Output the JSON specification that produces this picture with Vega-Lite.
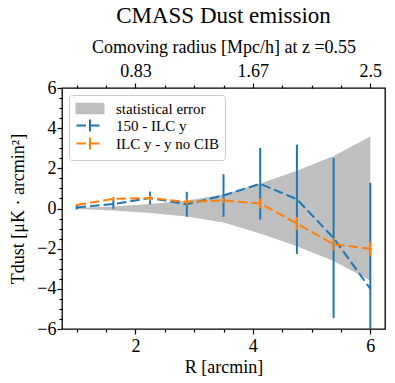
{
  "$schema": "https://vega.github.io/schema/vega-lite/v6.json",
  "width": 323,
  "height": 241,
  "autosize": {"type": "none"},
  "padding": {"left": 62, "top": 88, "right": 10, "bottom": 54},
  "background": "white",
  "title": {"text": "CMASS Dust emission", "font": "Liberation Serif", "fontSize": 23, "fontWeight": "normal", "color": "black", "offset": 10, "anchor": "middle"},
  "config": {
    "view": {"stroke": "black", "strokeWidth": 1.3},
    "axis": {"labelFont": "Liberation Serif", "labelFontSize": 18, "labelColor": "black", "titleFont": "Liberation Serif", "titleFontSize": 18, "titleFontWeight": "normal", "titleColor": "black", "tickColor": "black", "tickWidth": 1.2, "domain": false, "grid": false},
    "legend": {"labelFont": "Liberation Serif", "labelFontSize": 15, "labelColor": "black"}
  },
  "datasets": {
    "band": [
      {"R": 1.0, "lo": -0.03, "hi": 0.03, "series": "statistical error"},
      {"R": 1.625, "lo": -0.1, "hi": 0.1, "series": "statistical error"},
      {"R": 2.25, "lo": -0.22, "hi": 0.22, "series": "statistical error"},
      {"R": 2.875, "lo": -0.4, "hi": 0.4, "series": "statistical error"},
      {"R": 3.5, "lo": -0.7, "hi": 0.7, "series": "statistical error"},
      {"R": 4.125, "lo": -1.24, "hi": 1.24, "series": "statistical error"},
      {"R": 4.75, "lo": -1.88, "hi": 1.88, "series": "statistical error"},
      {"R": 5.375, "lo": -2.62, "hi": 2.62, "series": "statistical error"},
      {"R": 6.0, "lo": -3.58, "hi": 3.58, "series": "statistical error"}
    ],
    "points": [
      {"series": "150 - ILC y", "R": 1.0, "T": 0.05, "lo": -0.05, "hi": 0.15},
      {"series": "150 - ILC y", "R": 1.625, "T": 0.22, "lo": -0.01, "hi": 0.45},
      {"series": "150 - ILC y", "R": 2.25, "T": 0.52, "lo": 0.2, "hi": 0.84},
      {"series": "150 - ILC y", "R": 2.875, "T": 0.21, "lo": -0.41, "hi": 0.83},
      {"series": "150 - ILC y", "R": 3.5, "T": 0.65, "lo": -0.41, "hi": 1.71},
      {"series": "150 - ILC y", "R": 4.125, "T": 1.23, "lo": -0.56, "hi": 3.02},
      {"series": "150 - ILC y", "R": 4.75, "T": 0.46, "lo": -2.26, "hi": 3.18},
      {"series": "150 - ILC y", "R": 5.375, "T": -1.47, "lo": -5.45, "hi": 2.51},
      {"series": "150 - ILC y", "R": 6.0, "T": -4.0, "lo": -9.28, "hi": 1.28},
      {"series": "ILC y - y no CIB", "R": 1.0, "T": 0.17, "lo": 0.12, "hi": 0.22},
      {"series": "ILC y - y no CIB", "R": 1.625, "T": 0.48, "lo": 0.38, "hi": 0.58},
      {"series": "ILC y - y no CIB", "R": 2.25, "T": 0.52, "lo": 0.4, "hi": 0.64},
      {"series": "ILC y - y no CIB", "R": 2.875, "T": 0.33, "lo": 0.18, "hi": 0.48},
      {"series": "ILC y - y no CIB", "R": 3.5, "T": 0.4, "lo": 0.25, "hi": 0.55},
      {"series": "ILC y - y no CIB", "R": 4.125, "T": 0.25, "lo": 0.0, "hi": 0.5},
      {"series": "ILC y - y no CIB", "R": 4.75, "T": -0.75, "lo": -1.08, "hi": -0.42},
      {"series": "ILC y - y no CIB", "R": 5.375, "T": -1.78, "lo": -2.09, "hi": -1.47},
      {"series": "ILC y - y no CIB", "R": 6.0, "T": -2.0, "lo": -2.37, "hi": -1.63}
    ]
  },
  "encoding": {
    "color": {"field": "series", "type": "nominal",
      "scale": {"domain": ["statistical error", "150 - ILC y", "ILC y - y no CIB"], "range": ["#bfbfbf", "#1f77b4", "#ff7f0e"]},
      "legend": {
        "title": null, "orient": "top-left", "offset": 7, "padding": 6,
        "labelFont": "Liberation Serif", "labelFontSize": 15, "labelColor": "black",
        "fillColor": "rgba(255,255,255,0.8)", "strokeColor": "#cccccc", "cornerRadius": 3,
        "symbolSize": 144, "symbolStrokeWidth": 2, "labelOffset": 26, "rowPadding": -12,
        "encode": {
          "symbols": {"update": {
            "shape": {"signal": "datum.value === 'statistical error' ? 'M-1,-0.78H3.5V0.78H-1Z' : 'M-1,0H3.5M1.25,0V-1M1.25,0V1'"},
            "fill": {"signal": "datum.value === 'statistical error' ? '#bfbfbf' : 'transparent'"},
            "stroke": {"signal": "datum.value === 'statistical error' ? 'transparent' : (datum.value === '150 - ILC y' ? '#1f77b4' : '#ff7f0e')"},
            "strokeWidth": {"value": 2},
            "strokeDash": {"signal": "datum.value === 'statistical error' ? [1,0] : [9.5,4]"},
            "opacity": {"value": 1}
          }}
        }
      }
    }
  },
  "layer": [
    {
      "data": {"name": "band"},
      "mark": {"type": "area", "opacity": 1},
      "encoding": {
        "x": {"field": "R", "type": "quantitative", "scale": {"domain": [0.75, 6.25], "nice": false, "zero": false},
              "axis": {"orient": "bottom", "values": [2, 4, 6], "tickSize": 5, "labelPadding": 3, "title": "R [arcmin]", "titlePadding": 3, "labelFlush": false}},
        "y": {"field": "lo", "type": "quantitative", "scale": {"domain": [-6, 6], "nice": false, "zero": false},
              "axis": {"orient": "left", "values": [-6, -4, -2, 0, 2, 4, 6], "tickSize": 5, "labelPadding": 1, "title": "Tdust [μK · arcmin²]", "titlePadding": 9, "labelFlush": false}},
        "y2": {"field": "hi"}
      }
    },
    {
      "mark": {"type": "rule", "strokeWidth": 1.3},
      "encoding": {"y": {"datum": 0, "type": "quantitative", "axis": null}, "color": {"value": "black"}}
    },
    {
      "data": {"name": "points"},
      "transform": [{"filter": "datum.series === '150 - ILC y'"}],
      "mark": {"type": "line", "strokeWidth": 2, "strokeDash": [9.5, 4]},
      "encoding": {
        "x": {"field": "R", "type": "quantitative", "scale": {"domain": [0.75, 6.25], "nice": false, "zero": false},
              "axis": {"orient": "top", "values": [2, 4, 6], "tickSize": 5, "labelPadding": 3, "labelExpr": "datum.value === 2 ? '0.83' : (datum.value === 4 ? '1.67' : '2.5')", "title": "Comoving radius [Mpc/h] at z =0.55", "titlePadding": 6, "labelFlush": false}},
        "y": {"field": "T", "type": "quantitative",
              "axis": {"orient": "left", "values": [-5.5, -5, -4.5, -3.5, -3, -2.5, -1.5, -1, -0.5, 0.5, 1, 1.5, 2.5, 3, 3.5, 4.5, 5, 5.5], "tickSize": 3, "labels": false, "title": null}}
      }
    },
    {
      "data": {"name": "points"},
      "transform": [{"filter": "datum.series === '150 - ILC y'"}],
      "mark": {"type": "rule", "strokeWidth": 2, "clip": true},
      "encoding": {
        "x": {"field": "R", "type": "quantitative",
              "axis": {"orient": "bottom", "values": [1, 1.5, 2.5, 3, 3.5, 4.5, 5, 5.5], "tickSize": 3, "labels": false, "title": null}},
        "y": {"field": "lo", "type": "quantitative", "axis": null},
        "y2": {"field": "hi"}
      }
    },
    {
      "data": {"name": "points"},
      "transform": [{"filter": "datum.series === 'ILC y - y no CIB'"}],
      "mark": {"type": "line", "strokeWidth": 2, "strokeDash": [9.5, 4]},
      "encoding": {
        "x": {"field": "R", "type": "quantitative",
              "axis": {"orient": "top", "values": [1, 1.5, 2.5, 3, 3.5, 4.5, 5, 5.5], "tickSize": 3, "labels": false, "title": null}},
        "y": {"field": "T", "type": "quantitative", "axis": null}
      }
    },
    {
      "data": {"name": "points"},
      "transform": [{"filter": "datum.series === 'ILC y - y no CIB'"}],
      "mark": {"type": "rule", "strokeWidth": 2, "clip": true},
      "encoding": {
        "x": {"field": "R", "type": "quantitative", "axis": null},
        "y": {"field": "lo", "type": "quantitative", "axis": null},
        "y2": {"field": "hi"}
      }
    }
  ],
  "resolve": {"axis": {"x": "independent", "y": "independent"}}
}
